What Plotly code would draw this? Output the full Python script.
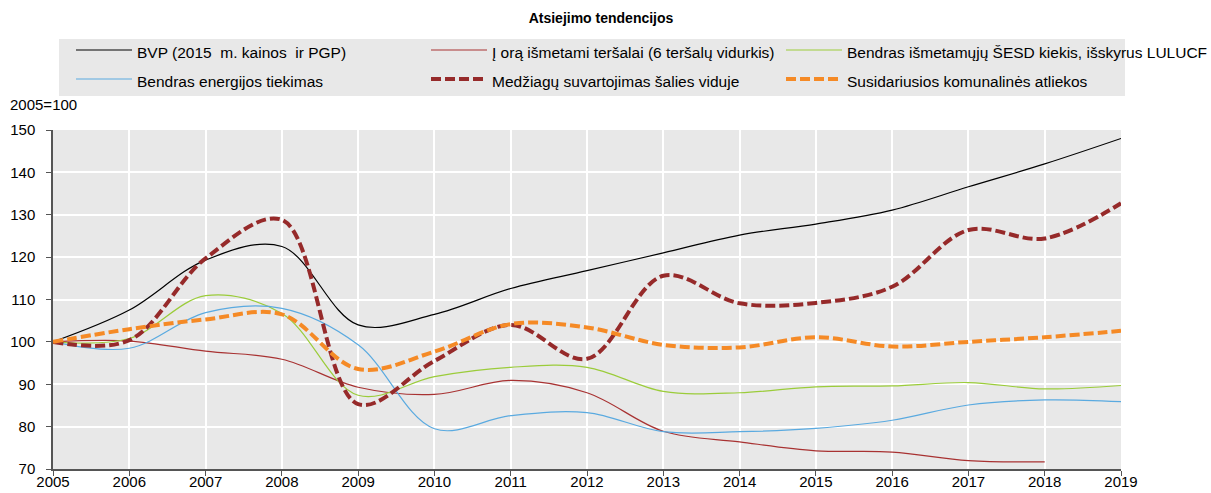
import plotly.graph_objects as go

years = list(range(2005, 2020))

bvp = [100, 107.5, 119.3, 122.5, 104.0, 106.5, 112.6, 116.8, 121.0, 125.2, 127.8, 131.1, 136.6, 142.0, 148.0]
air = [100, 100.2, 97.8, 95.9, 89.3, 87.6, 90.9, 88.0, 78.9, 76.4, 74.3, 74.0, 72.0, 71.7, None]
ghg = [100, 100.8, 110.9, 106.7, 87.4, 91.8, 94.0, 94.0, 88.3, 88.0, 89.4, 89.6, 90.4, 88.9, 89.7]
energy = [100, 98.5, 106.9, 107.9, 99.3, 79.5, 82.6, 83.3, 78.8, 78.8, 79.6, 81.5, 85.1, 86.3, 85.9]
material = [100, 100.4, 119.7, 128.8, 85.3, 95.5, 104.0, 96.0, 115.6, 109.1, 109.2, 113.0, 126.4, 124.4, 132.7]
waste = [100, 103.0, 105.3, 106.5, 93.6, 97.7, 104.2, 103.4, 99.3, 98.7, 101.1, 98.9, 100.0, 101.1, 102.6]

names = [
    "BVP (2015  m. kainos  ir PGP)",
    "Į orą išmetami teršalai (6 teršalų vidurkis)",
    "Bendras išmetamųjų ŠESD kiekis, išskyrus LULUCF",
    "Bendras energijos tiekimas",
    "Medžiagų suvartojimas šalies viduje",
    "Susidariusios komunalinės atliekos",
]
series = [bvp, air, ghg, energy, material, waste]
colors = ["#000000", "#a83232", "#9bcc3a", "#5aaae0", "#962a2a", "#f58a26"]
widths = [1.2, 1.2, 1.2, 1.2, 4, 4]
dashes = ["solid", "solid", "solid", "solid", "10px,4px", "10px,4px"]
legend_ids = ["legend", "legend2", "legend3", "legend", "legend2", "legend3"]

FONT = "Liberation Sans, Arial, sans-serif"

fig = go.Figure()
for n, s, c, w, d, lg in zip(names, series, colors, widths, dashes, legend_ids):
    fig.add_trace(go.Scatter(
        x=years, y=s, name='<span style="font-size:15.5px">' + n + '</span>',
        mode="lines", legend=lg,
        line=dict(color=c, width=w, dash=d, shape="spline", smoothing=1.0),
        connectgaps=False,
    ))

W_PLOT = 1211 - 53 - 90
H_PLOT = 493 - 130 - 24


def px_x(p):
    return (p - 53) / W_PLOT


def px_y(p):
    return 1 + (130 - p) / H_PLOT


def legend_at(xpx):
    return dict(
        orientation="v", x=px_x(xpx), xanchor="left",
        y=px_y(30.5), yanchor="top",
        bgcolor="rgba(0,0,0,0)", itemwidth=56,
        font=dict(family=FONT, size=20), traceorder="normal",
    )


fig.update_layout(
    width=1211, height=493,
    margin=dict(l=53, r=90, t=130, b=24, autoexpand=False),
    paper_bgcolor="white",
    plot_bgcolor="#e8e8e8",
    font=dict(family=FONT, size=15, color="#000000"),
    title=dict(text="<b>Atsiejimo tendencijos</b>", x=601 / 1211, xanchor="center",
               y=1 - 18 / 493, yanchor="middle", font=dict(family=FONT, size=14)),
    showlegend=True,
    legend=legend_at(71),
    legend2=legend_at(426),
    legend3=legend_at(781),
    shapes=[dict(
        type="rect", xref="paper", yref="paper", layer="below",
        x0=px_x(59), x1=px_x(1125), y0=px_y(96), y1=px_y(39),
        fillcolor="#e8e8e8", line=dict(width=0),
    )],
    xaxis=dict(
        range=[2005, 2019], tickmode="array", tickvals=years,
        ticktext=[str(y) for y in years], automargin=False,
        showgrid=True, gridcolor="white", gridwidth=1.5,
        showline=True, linecolor="#555555", linewidth=1.5,
        ticks="outside", ticklen=5, tickcolor="#555555",
        ticklabelstandoff=-7,
        zeroline=False, tickfont=dict(size=15),
    ),
    yaxis=dict(
        range=[70, 150], tickmode="array", tickvals=list(range(70, 151, 10)),
        automargin=False,
        showgrid=True, gridcolor="white", gridwidth=1.5,
        showline=True, linecolor="#555555", linewidth=1.5,
        ticks="outside", ticklen=5, tickcolor="#555555",
        ticklabelstandoff=8,
        zeroline=False, tickfont=dict(size=15),
    ),
    annotations=[dict(
        text="2005=100", xref="paper", yref="paper", x=px_x(8),
        y=px_y(104),
        xanchor="left", yanchor="middle", showarrow=False,
        font=dict(family=FONT, size=15),
    )],
)

fig.write_html("out.html", config={"displayModeBar": False},
               post_script="document.body.style.margin='0';")
